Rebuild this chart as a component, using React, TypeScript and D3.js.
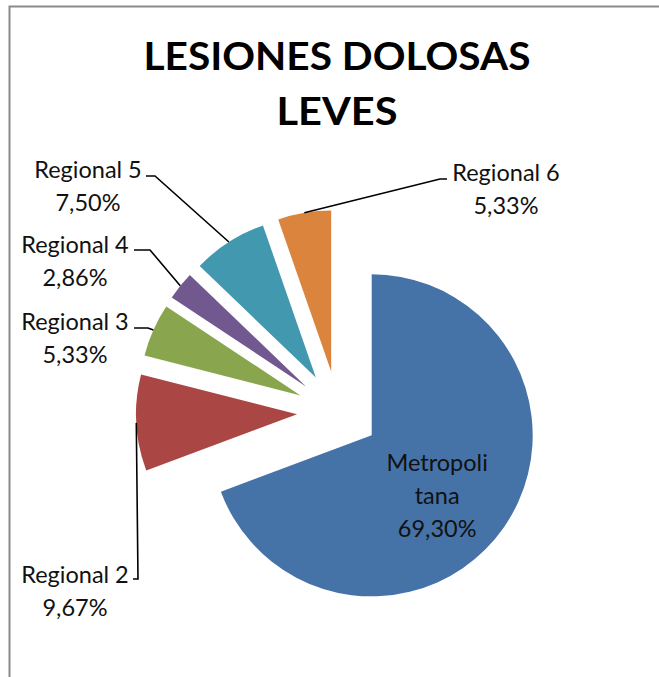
import React from 'react';
import * as d3 from 'd3';

// ---- data ----
const categories = ['Metropolitana', 'Regional 2', 'Regional 3', 'Regional 4', 'Regional 5', 'Regional 6'];
const values = [69.30, 9.67, 5.33, 2.86, 7.50, 5.33];
const valueLabels = ['69,30%', '9,67%', '5,33%', '2,86%', '7,50%', '5,33%'];
const categoryLines = [['Metropoli', 'tana'], ['Regional 2'], ['Regional 3'], ['Regional 4'], ['Regional 5'], ['Regional 6']];
const colors = ['#4572A7', '#AA4643', '#89A54E', '#71588F', '#4198AF', '#DB843D'];
const titleLines = ['LESIONES DOLOSAS', 'LEVES'];

// ---- layout ----
const W = 659, H = 677;
const CX = 338, CY = 412, R = 161, EXPLODE = 41;
const LINE_H = 33;
const FS = 23.5;
const FONT = 'Lato, "Open Sans", sans-serif';
// outside labels: text center x, first baseline, leader start/elbow
const outside: Record<number, { x: number; y: number; start: [number, number]; elbow: [number, number] }> = {
  1: { x: 75, y: 583, start: [133, 579], elbow: [138, 579] },
  2: { x: 75, y: 330, start: [134, 328], elbow: [148, 328] },
  3: { x: 75, y: 253, start: [134, 250], elbow: [150, 250] },
  4: { x: 88, y: 178, start: [146, 176], elbow: [155, 176] },
  5: { x: 506, y: 181, start: [447, 179], elbow: [440, 179] },
};
const titleWidths = [387, 121];

export default function App() {
  const pie = d3.pie<number>().sort(null).value((d) => d).startAngle(0).endAngle(2 * Math.PI);
  const arcs = pie(values);
  const arc = d3.arc<d3.PieArcDatum<number>>().innerRadius(0).outerRadius(R);
  const labelArc = d3.arc<d3.PieArcDatum<number>>().innerRadius(0).outerRadius(R * 1.05);

  return (
    <svg width={W} height={H} style={{ position: 'absolute', left: 0, top: 0, background: '#fff' }}>
      <rect x={9.5} y={6.5} width={W + 20} height={H + 20} fill="#fff" stroke="#8a8a8a" strokeWidth={2} />
      {titleLines.map((t, i) => (
        <text key={t} x={337} y={70 + i * 55} textAnchor="middle" fontFamily={FONT} fontWeight={700}
          fontSize={38} fill="#000" textLength={titleWidths[i]} lengthAdjust="spacingAndGlyphs">{t}</text>
      ))}
      {arcs.map((a, i) => {
        const mid = (a.startAngle + a.endAngle) / 2;
        const [ox, oy] = d3.pointRadial(mid, EXPLODE);
        return (
          <g key={categories[i]} transform={`translate(${CX + ox},${CY + oy})`}>
            <path d={arc(a) || ''} fill={colors[i]} />
          </g>
        );
      })}
      {arcs.map((a, i) => {
        const mid = (a.startAngle + a.endAngle) / 2;
        const [ox, oy] = d3.pointRadial(mid, EXPLODE);
        if (i === 0) {
          const [lx, ly] = labelArc.centroid(a);
          const lines = [...categoryLines[i], valueLabels[i]];
          const x = CX + ox + lx - 4;
          const y0 = CY + oy + ly - 13;
          return (
            <g key={'l' + i}>
              {lines.map((t, k) => (
                <text key={k} x={x} y={y0 + k * LINE_H} textAnchor="middle" fontFamily={FONT}
                  fontSize={FS} fill="#111">{t}</text>
              ))}
            </g>
          );
        }
        const o = outside[i];
        const [px, py] = d3.pointRadial(mid, EXPLODE + R);
        const pts: [number, number][] = [o.start, o.elbow, [CX + px, CY + py]];
        const lines = [...categoryLines[i], valueLabels[i]];
        return (
          <g key={'l' + i}>
            <path d={d3.line()(pts) || ''} fill="none" stroke="#000" strokeWidth={1.6} />
            {lines.map((t, k) => (
              <text key={k} x={o.x} y={o.y + k * LINE_H} textAnchor="middle" fontFamily={FONT}
                fontSize={FS} fill="#111">{t}</text>
            ))}
          </g>
        );
      })}
    </svg>
  );
}
